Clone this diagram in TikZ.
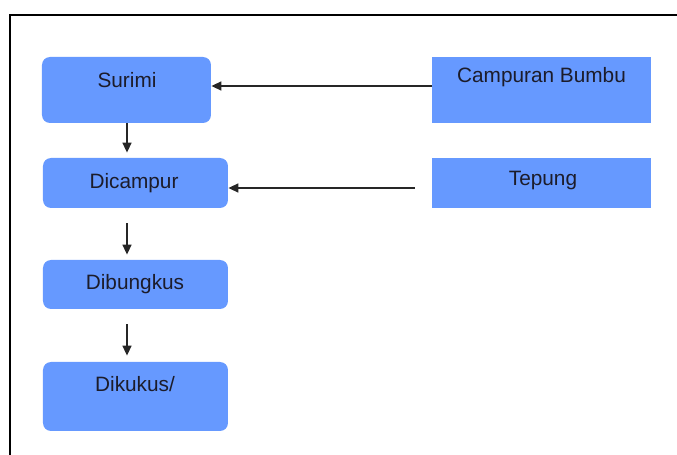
\documentclass[tikz,border=0pt]{standalone}
\usepackage{fontspec}
\setmainfont{Liberation Sans}
\usetikzlibrary{arrows.meta}
\definecolor{boxblue}{HTML}{6699FF}
\definecolor{txtcol}{HTML}{1C1C2A}
\begin{document}
\begin{tikzpicture}[x=0.5pt,y=-0.5pt,
  rbox/.style={fill=boxblue, draw=none, rounded corners=4pt, inner sep=0pt},
  sbox/.style={fill=boxblue, draw=none, inner sep=0pt},
  txt/.style={anchor=base, inner sep=0pt, text=txtcol, font=\fontsize{10.4pt}{12pt}\selectfont},
  arr/.style={draw=black!85, line width=0.75pt, -{Triangle[length=5pt,width=4.5pt]}},
  frame/.style={draw=black, line width=1.2pt}]
\useasboundingbox (0,0) rectangle (677,455);
\draw[frame] (678,15) -- (10,15) -- (10,456);
% left column
\node[rbox, minimum width=84.5pt, minimum height=33pt] (surimi) at (126.5,90) {};
\node[rbox, minimum width=92.5pt, minimum height=25pt] (dicampur) at (135.5,183) {};
\node[rbox, minimum width=92.5pt, minimum height=24.5pt] (dibungkus) at (135.5,284.5) {};
\node[rbox, minimum width=92.5pt, minimum height=34.5pt] (dikukus) at (135.5,396.5) {};
% right column
\node[sbox, minimum width=109.5pt, minimum height=33pt] (campuran) at (541.5,90) {};
\node[sbox, minimum width=109.5pt, minimum height=25pt] (tepung) at (541.5,183) {};
% texts
\node[txt] at (127,87.5) {Surimi};
\node[txt] at (134,188.3) {Dicampur};
\node[txt] at (135,289.3) {Dibungkus};
\node[txt] at (135,391.7) {Dikukus/};
\node[txt] at (541.5,83) {Campuran Bumbu};
\node[txt] at (543,185) {Tepung};
% vertical arrows
\draw[arr, shorten >=2.5pt] (surimi.south -| 127,0) -- (dicampur.north -| 127,0);
\draw[arr, shorten <=7.5pt, shorten >=2.5pt] (dicampur.south -| 127,0) -- (dibungkus.north -| 127,0);
\draw[arr, shorten <=7.5pt, shorten >=3pt] (dibungkus.south -| 127,0) -- (dikukus.north -| 127,0);
% horizontal arrows
\draw[arr] (campuran.west |- 0,86) -- (surimi.east |- 0,86);
\draw[arr, shorten <=8.5pt] (tepung.west |- 0,188) -- (dicampur.east |- 0,188);
\end{tikzpicture}
\end{document}
